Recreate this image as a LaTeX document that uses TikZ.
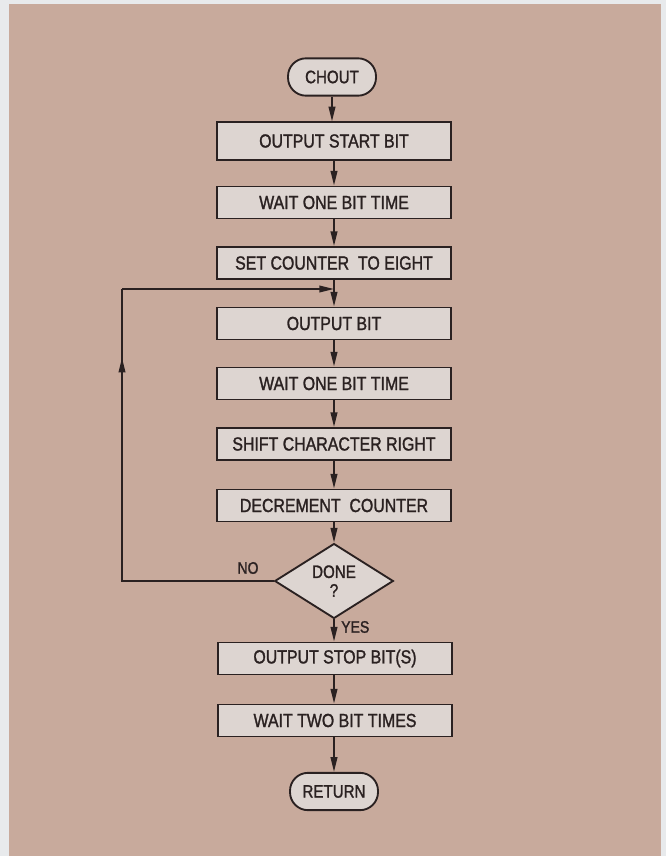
\documentclass[tikz,border=0pt]{standalone}
\usepackage{fontspec}
\usetikzlibrary{shapes.geometric,arrows.meta,decorations.markings}
\newfontfamily\lblfont{Liberation Sans}[FakeStretch=0.84,FakeBold=1.4]
\definecolor{panel}{HTML}{C8AA9C}
\definecolor{paper}{HTML}{E8EAEC}
\definecolor{boxfill}{HTML}{DDD5D1}
\definecolor{ink}{HTML}{2A2121}
\tikzset{
  stepbox/.style={draw=ink, fill=boxfill, line width=1.4pt, inner sep=0pt,
    minimum width=175.5pt, minimum height=24pt,
    font=\lblfont\fontsize{14.2pt}{15pt}\selectfont, text=ink},
  termbox/.style={draw=ink, fill=boxfill, line width=1.4pt, inner sep=0pt,
    minimum width=66pt, minimum height=28pt, rounded corners=13.5pt,
    font=\lblfont\fontsize{13.5pt}{15pt}\selectfont, text=ink},
  decbox/.style={draw=ink, fill=boxfill, line width=1.4pt, inner sep=0pt,
    diamond, minimum width=89pt, minimum height=49pt, align=center,
    font=\lblfont\fontsize{13.5pt}{13pt}\selectfont, text=ink},
  flow/.style={draw=ink, line width=1.3pt, -{Triangle[length=11pt,width=5pt]}},
  plain/.style={draw=ink, line width=1.3pt},
  midup/.style={postaction={decorate}, decoration={markings,
    mark=at position #1 with {\arrow{Triangle[length=11pt,width=5pt]}}}},
  tag/.style={font=\lblfont\fontsize{12.5pt}{13pt}\selectfont, text=ink, inner sep=0pt}
}
\begin{document}
\begin{tikzpicture}[x=0.75pt,y=-0.75pt]
\useasboundingbox (0,0) rectangle (666,856);
\fill[paper] (0,0) rectangle (666,856);
\fill[panel] (9,4) rectangle (661,856);

\node[termbox] (chout) at (332,77) {CHOUT};
\node[stepbox, minimum height=28pt] (b1) at (334,141) {OUTPUT START BIT};
\node[stepbox] (b2) at (334,202.5) {WAIT ONE BIT TIME};
\node[stepbox] (b3) at (334,263) {SET COUNTER \ TO EIGHT};
\node[stepbox] (b4) at (334,323.5) {OUTPUT BIT};
\node[stepbox] (b5) at (334,383.5) {WAIT ONE BIT TIME};
\node[stepbox] (b6) at (334,444) {SHIFT CHARACTER RIGHT};
\node[stepbox] (b7) at (334,505.5) {DECREMENT \ COUNTER};
\node[decbox] (d) at (334,581) {DONE\\[1pt]?};
\node[stepbox] (b8) at (335,658.5) {OUTPUT STOP BIT(S)};
\node[stepbox] (b9) at (335,720.5) {WAIT TWO BIT TIMES};
\node[termbox] (ret) at (334,791.5) {RETURN};

\node[tag] (no) at (248,568) {NO};
\node[tag, anchor=west] (yes) at (341,627) {YES};

\coordinate (j) at (334,289);
\coordinate (c1) at (122,581);
\coordinate (c2) at (122,289);

\draw[flow] (chout.south) -- (b1.north -| chout.south);
\draw[flow] (b1) -- (b2);
\draw[flow] (b2) -- (b3);
\draw[flow] (b3) -- (b4);
\draw[flow] (b4) -- (b5);
\draw[flow] (b5) -- (b6);
\draw[flow] (b6) -- (b7);
\draw[flow] (b7) -- (d);
\draw[flow] (d.south) -- (b8.north -| d.south);
\draw[flow] (b8.south -| d.south) -- (b9.north -| d.south);
\draw[flow] (b9.south -| d.south) -- (ret);

\draw[plain, midup=0.845] (d.west) -- (c1) -- (c2);
\draw[flow] (c2) -- (j);
\end{tikzpicture}
\end{document}
